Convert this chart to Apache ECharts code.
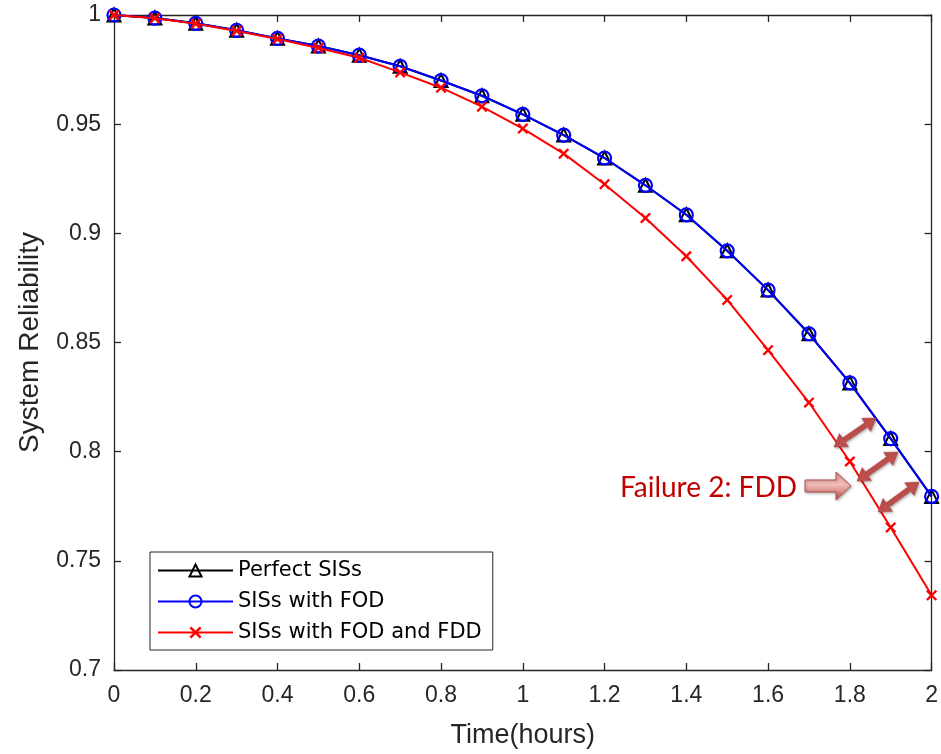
<!DOCTYPE html>
<html>
<head>
<meta charset="utf-8">
<script src="https://cdn.jsdelivr.net/npm/echarts@6/dist/echarts.min.js"></script>
<style>
html,body{margin:0;padding:0;background:#fff;}
#chart{width:941px;height:754px;}
</style>
</head>
<body>
<div id="chart"></div>
<script>
// ---- Data ----
var timeHours = [0, 0.1, 0.2, 0.3, 0.4, 0.5, 0.6, 0.7, 0.8, 0.9, 1.0, 1.1, 1.2, 1.3, 1.4, 1.5, 1.6, 1.7, 1.8, 1.9, 2.0];
var perfectSIS = [1.0, 0.9986, 0.9962, 0.993, 0.9893, 0.9858, 0.9816, 0.9765, 0.970, 0.963, 0.9545, 0.945, 0.9345, 0.922, 0.9085, 0.892, 0.874, 0.854, 0.8315, 0.806, 0.7795];
var sisFOD = [1.0, 0.9986, 0.9962, 0.993, 0.9893, 0.9858, 0.9816, 0.9765, 0.970, 0.963, 0.9545, 0.945, 0.9345, 0.922, 0.9085, 0.892, 0.874, 0.854, 0.8315, 0.806, 0.7795];
var sisFODFDD = [1.0, 0.9985, 0.996, 0.9927, 0.989, 0.9849, 0.9804, 0.9737, 0.9667, 0.958, 0.948, 0.9365, 0.9225, 0.907, 0.8895, 0.8695, 0.8465, 0.8225, 0.7955, 0.7653, 0.7342];
var seriesNames = ['Perfect SISs', 'SISs with FOD', 'SISs with FOD and FDD'];
var xTicks = {min: 0, max: 2, interval: 0.2};
var yTicks = {min: 0.7, max: 1, interval: 0.05};
var annotationText = 'Failure 2: FDD';

function pairs(xs, ys) { return xs.map(function (x, i) { return [x, ys[i]]; }); }

var axisColor = '#262626';
var crossPath = 'path://M1.5,0 L5,3.5 L8.5,0 L10,1.5 L6.5,5 L10,8.5 L8.5,10 L5,6.5 L1.5,10 L0,8.5 L3.5,5 L0,1.5 Z';

// double-headed arrow graphic
function dblArrow(x1, y1, x2, y2) {
  var dx = x2 - x1, dy = y2 - y1, L = Math.sqrt(dx * dx + dy * dy);
  var ux = dx / L, uy = dy / L, px = -uy, py = ux;
  var hl = 12, hw = 8, sw = 2.6;
  var pts = [
    [x1, y1],
    [x1 + ux * hl + px * hw, y1 + uy * hl + py * hw],
    [x1 + ux * hl + px * sw, y1 + uy * hl + py * sw],
    [x2 - ux * hl + px * sw, y2 - uy * hl + py * sw],
    [x2 - ux * hl + px * hw, y2 - uy * hl + py * hw],
    [x2, y2],
    [x2 - ux * hl - px * hw, y2 - uy * hl - py * hw],
    [x2 - ux * hl - px * sw, y2 - uy * hl - py * sw],
    [x1 + ux * hl - px * sw, y1 + uy * hl - py * sw],
    [x1 + ux * hl - px * hw, y1 + uy * hl - py * hw]
  ];
  return {
    type: 'polygon', z: 100,
    shape: {points: pts},
    style: {fill: '#C0504D', stroke: '#B0443F', lineWidth: 0.5, shadowBlur: 3, shadowColor: 'rgba(0,0,0,0.35)', shadowOffsetX: 1, shadowOffsetY: 1}
  };
}

var chart = echarts.init(document.getElementById('chart'), null, {renderer: 'canvas'});

var option = {
  backgroundColor: '#fff',
  animation: false,
  grid: {left: 114, right: 9, top: 15, bottom: 82, containLabel: false},
  legend: {
    orient: 'vertical',
    left: 150, top: 552,
    padding: [8, 11, 7, 7],
    itemGap: 10,
    itemWidth: 75,
    itemHeight: 15,
    backgroundColor: '#fff',
    borderColor: axisColor,
    borderWidth: 1,
    borderRadius: 0,
    textStyle: {fontFamily: 'DejaVu Sans', fontSize: 21, color: '#000', lineHeight: 21, padding: [0, 0, 0, 0]},
    data: seriesNames
  },
  xAxis: [{
    type: 'value', position: 'bottom',
    min: xTicks.min, max: xTicks.max, interval: xTicks.interval,
    axisLine: {show: true, onZero: false, lineStyle: {color: axisColor, width: 1.3}},
    axisTick: {show: true, inside: true, length: 7, lineStyle: {color: axisColor, width: 1.3}},
    splitLine: {show: false},
    axisLabel: {margin: 14, fontFamily: 'Liberation Sans', fontSize: 23, color: axisColor,
      formatter: function (v) { return String(+v.toFixed(2)); }},
    name: 'Time(hours)', nameLocation: 'middle', nameGap: 52,
    nameTextStyle: {fontFamily: 'Liberation Sans', fontSize: 27, color: axisColor}
  }, {
    type: 'value', position: 'top',
    min: xTicks.min, max: xTicks.max, interval: xTicks.interval,
    axisLine: {show: true, onZero: false, lineStyle: {color: axisColor, width: 1.3}},
    axisTick: {show: true, inside: true, length: 7, lineStyle: {color: axisColor, width: 1.3}},
    splitLine: {show: false},
    axisLabel: {show: false}
  }],
  yAxis: [{
    type: 'value', position: 'left',
    min: yTicks.min, max: yTicks.max, interval: yTicks.interval,
    axisLine: {show: true, onZero: false, lineStyle: {color: axisColor, width: 1.3}},
    axisTick: {show: true, inside: true, length: 7, lineStyle: {color: axisColor, width: 1.3}},
    splitLine: {show: false},
    axisLabel: {margin: 13, fontFamily: 'Liberation Sans', fontSize: 23, color: axisColor,
      formatter: function (v) { return String(+v.toFixed(2)); }},
    name: 'System Reliability', nameLocation: 'middle', nameGap: 70,
    nameTextStyle: {fontFamily: 'Liberation Sans', fontSize: 28, color: axisColor}
  }, {
    type: 'value', position: 'right',
    min: yTicks.min, max: yTicks.max, interval: yTicks.interval,
    axisLine: {show: true, onZero: false, lineStyle: {color: axisColor, width: 1.3}},
    axisTick: {show: true, inside: true, length: 7, lineStyle: {color: axisColor, width: 1.3}},
    splitLine: {show: false},
    axisLabel: {show: false}
  }],
  series: [{
    name: seriesNames[0], type: 'line', xAxisIndex: 0, yAxisIndex: 0,
    data: pairs(timeHours, perfectSIS),
    symbol: 'triangle', symbolSize: 13, showAllSymbol: true,
    lineStyle: {color: '#000', width: 2},
    itemStyle: {color: 'rgba(255,255,255,0)', borderColor: '#000', borderWidth: 2},
    z: 2
  }, {
    name: seriesNames[1], type: 'line', xAxisIndex: 0, yAxisIndex: 0,
    data: pairs(timeHours, sisFOD),
    symbol: 'circle', symbolSize: 13, showAllSymbol: true,
    lineStyle: {color: '#0000FF', width: 2},
    itemStyle: {color: 'rgba(255,255,255,0)', borderColor: '#0000FF', borderWidth: 2.2},
    z: 3
  }, {
    name: seriesNames[2], type: 'line', xAxisIndex: 0, yAxisIndex: 0,
    data: pairs(timeHours, sisFODFDD),
    symbol: crossPath, symbolSize: 11, showAllSymbol: true,
    lineStyle: {color: '#FF0000', width: 2},
    itemStyle: {color: '#FF0000'},
    z: 4
  }],
  graphic: [
    dblArrow(834, 447, 876, 418),
    dblArrow(857, 481, 898, 452),
    dblArrow(878, 512, 919, 482),
    {
      type: 'polygon', z: 100,
      shape: {points: [[805, 480], [836, 480], [836, 472], [851, 486], [836, 500], [836, 492], [805, 492]]},
      style: {
        fill: new echarts.graphic.LinearGradient(0, 0, 0, 1, [
          {offset: 0, color: '#E39591'}, {offset: 0.45, color: '#F0BDBA'}, {offset: 1, color: '#C0504D'}
        ]),
        stroke: '#B5504C', lineWidth: 1,
        shadowBlur: 3, shadowColor: 'rgba(0,0,0,0.3)', shadowOffsetX: 1, shadowOffsetY: 1
      }
    },
    {
      type: 'text', z: 100,
      style: {x: 797, y: 488, text: annotationText, align: 'right', verticalAlign: 'middle',
        fontFamily: 'Lato', fontSize: 28, fill: '#C00000'}
    }
  ]
};
chart.setOption(option);
</script>
</body>
</html>
